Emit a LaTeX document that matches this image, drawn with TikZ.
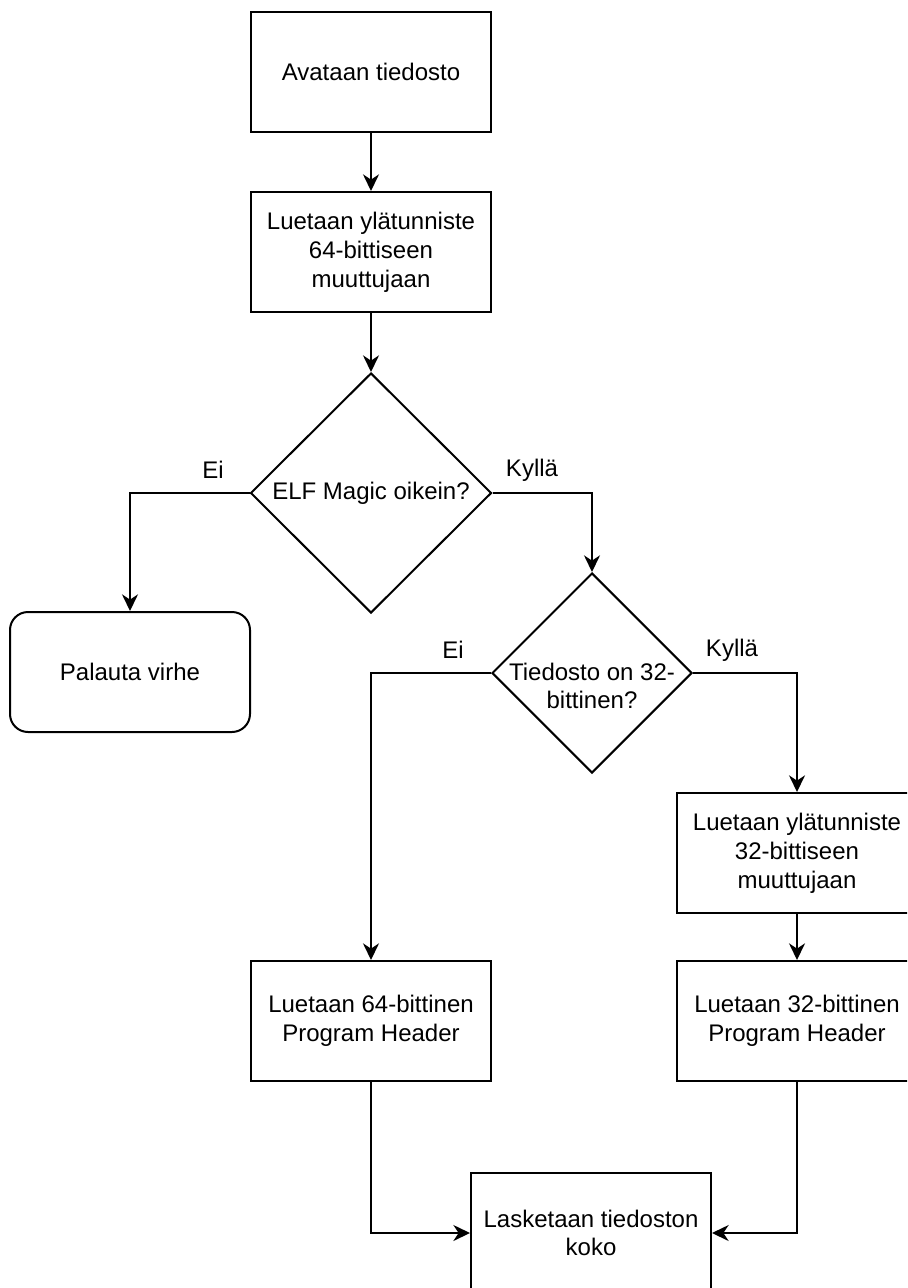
\documentclass[tikz,border=0pt]{standalone}
\usepackage{fontspec}
\setmainfont{Liberation Sans}
\usetikzlibrary{shapes.geometric,arrows.meta}

\tikzset{
  every node/.style={font=\fontsize{18}{21.6}\selectfont, text=black},
  procbox/.style={draw, line width=1.5pt, rectangle, minimum width=180pt,
    minimum height=90pt, inner sep=0pt, align=center},
  endbox/.style={procbox, rounded corners=13.5pt},
  decision/.style={draw, line width=1.5pt, diamond, inner sep=0pt},
  plain/.style={align=center, inner sep=0pt},
  flow/.style={line width=1.5pt,
    -{Stealth[length=12.5pt, width=12pt, inset=4pt]}},
  branch/.style={inner sep=0pt}
}

\begin{document}
\begin{tikzpicture}[x=0.75pt, y=-0.75pt]
  \useasboundingbox (0,0) rectangle (907,1288);
  \clip (0,0) rectangle (907,1288);

  % process steps
  \node[procbox] (open)  at (371,72)  {Avataan tiedosto};
  \node[procbox] (hdr64) at (371,252) {Luetaan ylätunniste\\64-bittiseen\\muuttujaan};

  % first decision
  \node[decision, minimum width=180.75pt, minimum height=180pt] (magic) at (371,493) {};
  \node[plain] (magictxt) at (magic.center) {ELF Magic oikein?};

  \node[endbox] (err) at (130,672) {Palauta virhe};

  % second decision
  \node[decision, minimum width=150pt, minimum height=150pt] (is32) at (592,673) {};
  \node[plain, anchor=center] (is32txt) at (592,686) {Tiedosto on 32-\\bittinen?};

  \node[procbox] (hdr32) at (797,853)  {Luetaan ylätunniste\\32-bittiseen\\muuttujaan};
  \node[procbox] (ph64)  at (371,1021) {Luetaan 64-bittinen\\Program Header};
  \node[procbox] (ph32)  at (797,1021) {Luetaan 32-bittinen\\Program Header};
  \node[procbox] (size)  at (591,1233) {Lasketaan tiedoston\\koko};

  % connectors
  \draw[flow] (open.south) -- (hdr64.north);
  \draw[flow] (hdr64.south) -- (magic.north);
  \draw[flow] (magic.west) -| (err.north);
  \draw[flow] (magic.east) -| (is32.north);
  \draw[flow] (is32.west) -| (ph64.north);
  \draw[flow] (is32.east) -| (hdr32.north);
  \draw[flow] (hdr32.south) -- (ph32.north);
  \draw[flow] (ph64.south) |- (size.west);
  \draw[flow] (ph32.south) |- (size.east);

  % branch labels
  \node[branch] (noA)  at (213,470) {Ei};
  \node[branch] (yesA) at (532,470) {Kyllä};
  \node[branch] (noB)  at (453,650) {Ei};
  \node[branch] (yesB) at (732,650) {Kyllä};
\end{tikzpicture}
\end{document}
